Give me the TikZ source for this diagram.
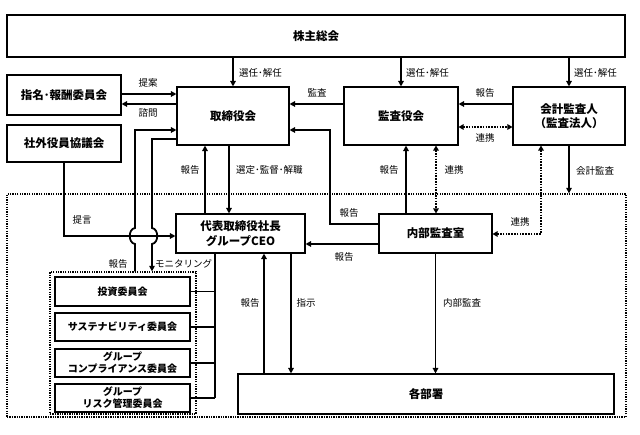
\documentclass[tikz,border=0pt]{standalone}
\usepackage{fontspec}
\newfontfamily\jp{Noto Sans CJK JP}
\usetikzlibrary{arrows.meta,calc}
\begin{document}
\begin{tikzpicture}[x=1pt,y=-1pt,
  box/.style={draw, line width=1.1pt, inner sep=0pt, align=center, font=\jp\bfseries\fontsize{11.5}{14.5}\selectfont},
  cbox/.style={box, font=\jp\bfseries\fontsize{10}{12}\selectfont},
  lbl/.style={font=\jp\fontsize{9.5}{10}\selectfont, inner sep=1pt},
  arr/.style={line width=1.8pt, -{Triangle[length=5.5pt,width=5.5pt]}},
  ln/.style={line width=1.8pt},
  dotarr/.style={line width=1.8pt, dash pattern=on 1.5pt off 1.3pt, {Triangle[length=5pt,width=5.5pt]}-{Triangle[length=5pt,width=5.5pt]}},
  border/.style={line width=1.3pt, dash pattern=on 1.3pt off 1.1pt},
]
\fill[white] (0,0) rectangle (640,435);
\useasboundingbox (0,0) rectangle (640,435);

% helper coordinates
\foreach \v in {94,104,127,130,139,224,234,236,244}{\coordinate (y\v) at (0,\v);}
\foreach \v in {135,152,205,215,229,264,291,330,406,436,541}{\coordinate (x\v) at (\v,0);}

% boxes
\node[box, minimum width=618pt, minimum height=42pt] (kabu) at (316,36) {株主総会};
\node[box, minimum width=114pt, minimum height=40pt] (shimei) at (64,95) {指名･報酬委員会};
\node[box, minimum width=114pt, minimum height=37pt] (shagai) at (64,143.5) {社外役員協議会};
\node[box, minimum width=112pt, minimum height=58pt] (tori) at (233,116) {取締役会};
\node[box, minimum width=114pt, minimum height=58pt] (kansa) at (401,116) {監査役会};
\node[box, minimum width=112pt, minimum height=58pt] (kaikei) at (569,116) {会計監査人\\（監査法人）};
\node[border, draw, minimum width=619pt, minimum height=223pt] (outer) at (316.5,305.5) {};
\node[box, minimum width=129pt, minimum height=39pt] (ceo) at (240.5,233.5) {代表取締役社長\\グループCEO};
\node[box, minimum width=113pt, minimum height=39pt] (naibu) at (435.5,233.5) {内部監査室};
\node[box, minimum width=376pt, minimum height=40pt] (kakubu) at (426,394) {各部署};
\node[border, draw, minimum width=146pt, minimum height=142pt] (grp) at (123,343) {};
\node[cbox, minimum width=135pt, minimum height=29pt] (toushi) at (122.5,291.5) {投資委員会};
\node[cbox, minimum width=135pt, minimum height=28pt] (sus) at (122.5,327) {サステナビリティ委員会};
\node[cbox, minimum width=135pt, minimum height=28pt] (comp) at (122.5,363) {グループ\\コンプライアンス委員会};
\node[cbox, minimum width=135pt, minimum height=28pt] (risk) at (122.5,398) {グループ\\リスク管理委員会};

% connectors from shareholders
\draw[arr] (kabu.south -| tori) -- (tori.north);
\draw[arr] (kabu.south -| kansa) -- (kansa.north);
\draw[arr] (kabu.south -| kaikei) -- (kaikei.north);

\draw[arr] (shimei.east |- y94) -- (tori.west |- y94);
\draw[arr] (tori.west |- y104) -- (shimei.east |- y104);
\draw[arr] (kansa.west |- y104) -- (tori.east |- y104);
\draw[arr] (kaikei.west |- y104) -- (kansa.east |- y104);
\draw[dotarr] (kansa.east |- y127) -- (kaikei.west |- y127);

\draw[arr] (ceo.north -| x205) -- (tori.south -| x205);
\draw[arr] (tori.south -| x229) -- (ceo.north -| x229);

\draw[arr] (shagai.south) -- (shagai.south |- y236) -- (ceo.west |- y236);

\draw[arr] (grp.north -| x135) -- (135,244) .. controls (128,243) and (128,229) .. (135,228) -- (x135 |- y130) -- (tori.west |- y130);
\draw[arr] (tori.west |- y139) -- (x152 |- y139) -- (152,228) .. controls (159,229) and (159,243) .. (152,244) -- (grp.north -| x152);

\draw[ln] (ceo.south -| x215) -- (risk.east -| x215);
\draw[ln] (toushi.east) -- (toushi.east -| x215);
\draw[ln] (sus.east) -- (sus.east -| x215);
\draw[ln] (comp.east) -- (comp.east -| x215);
\draw[ln] (risk.east) -- (risk.east -| x215);

\draw[arr] (kakubu.north -| x264) -- (ceo.south -| x264);
\draw[arr] (ceo.south -| x291) -- (kakubu.north -| x291);

\draw[arr] (naibu.north -| x406) -- (kansa.south -| x406);
\draw[dotarr] (kansa.south -| x436) -- (naibu.north -| x436);
\draw[arr] (naibu.south) -- (naibu.south |- kakubu.north);
\draw[arr] (naibu.west |- y224) -- (x330 |- y224) -- (x330 |- y130) -- (tori.east |- y130);
\draw[arr] (naibu.west |- y244) -- (ceo.east |- y244);
\draw[dotarr] (kaikei.south -| x541) -- (x541 |- y234) -- (naibu.east |- y234);
\draw[arr] (kaikei.south) -- (kaikei.south |- outer.north);

% labels
\node[lbl, anchor=west] (l1) at (238,73) {選任･解任};
\node[lbl, anchor=west] (l2) at (405,73) {選任･解任};
\node[lbl, anchor=west] (l3) at (573,73) {選任･解任};
\node[lbl] (l4) at (148,83) {提案};
\node[lbl] (l5) at (148,113) {諮問};
\node[lbl] (l6) at (317,93) {監査};
\node[lbl] (l7) at (485,93) {報告};
\node[lbl] (l8) at (485,138) {連携};
\node[lbl] (l9) at (190,170) {報告};
\node[lbl, anchor=west] (l10) at (235,170) {選定･監督･解職};
\node[lbl] (l11) at (82,220) {提言};
\node[lbl] (l12) at (118,264) {報告};
\node[lbl, anchor=west] (l13) at (154,264) {モニタリング};
\node[lbl] (l14) at (389,170) {報告};
\node[lbl] (l15) at (454,170) {連携};
\node[lbl] (l16) at (349,213) {報告};
\node[lbl] (l17) at (344,257) {報告};
\node[lbl] (l18) at (520,222) {連携};
\node[lbl, anchor=west] (l19) at (575,171) {会計監査};
\node[lbl] (l20) at (250,303) {報告};
\node[lbl] (l21) at (306,303) {指示};
\node[lbl] (l22) at (462,303) {内部監査};
\end{tikzpicture}
\end{document}
